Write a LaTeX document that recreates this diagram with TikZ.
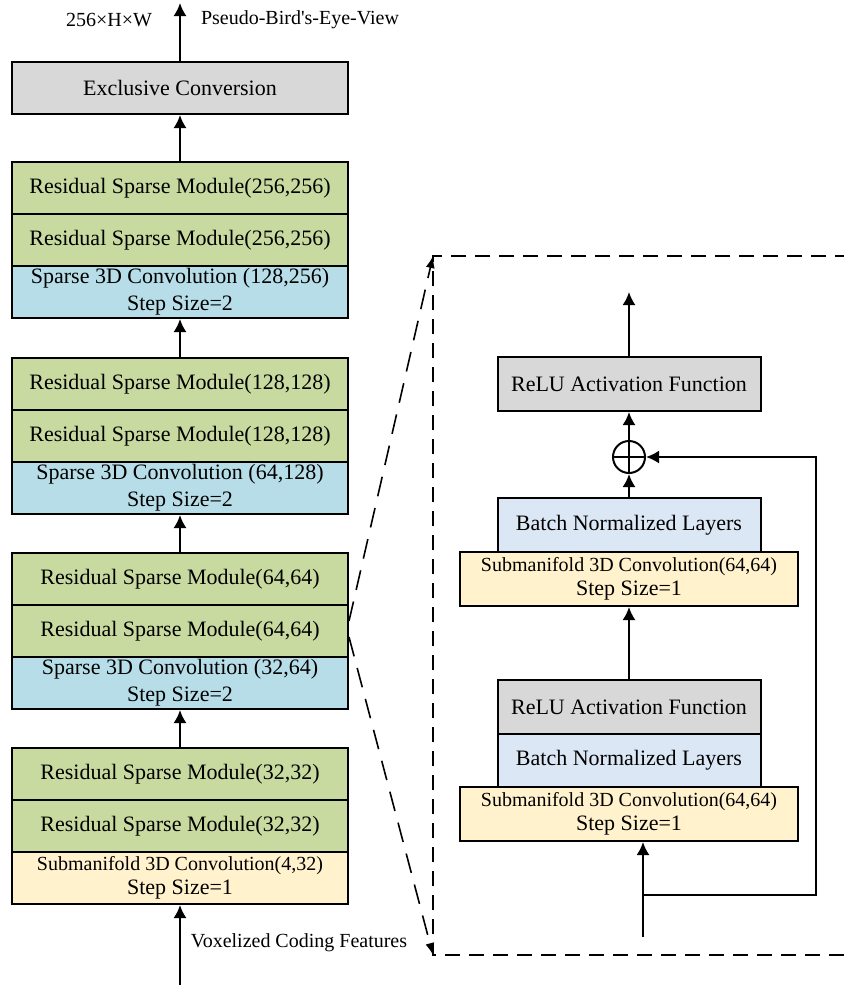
\documentclass[tikz,border=0pt]{standalone}
\usepackage{fontspec}
\setmainfont{Liberation Serif}
\usetikzlibrary{arrows.meta}
\definecolor{resgreen}{RGB}{200,218,160}
\definecolor{convblue}{RGB}{183,222,232}
\definecolor{subyellow}{RGB}{255,242,204}
\definecolor{boxgray}{RGB}{216,216,216}
\definecolor{bnblue}{RGB}{220,231,245}
\begin{document}
\begin{tikzpicture}[x=0.5pt,y=-0.5pt]
		\begin{scope}
		
		\tikzstyle{mybox}=[rectangle,
		draw=black,
		line width=1pt,
		inner sep=0pt,
		align=center,
		font=\fontsize{11}{13.5}\selectfont
		]
		\tikzstyle{myres}=[mybox, fill=resgreen, minimum width=168pt, minimum height=26pt]
		\tikzstyle{myconv}=[mybox, fill=convblue, minimum width=168pt, minimum height=26pt]
		\tikzstyle{mysub}=[mybox, fill=subyellow, minimum width=168pt, minimum height=26pt,
		font=\fontsize{11}{12}\selectfont]
		\tikzstyle{mygray}=[mybox, fill=boxgray, minimum width=168pt, minimum height=26pt]
		\tikzstyle{myrelu}=[mybox, fill=boxgray, minimum width=131.5pt, minimum height=27pt]
		\tikzstyle{mybn}=[mybox, fill=bnblue, minimum width=131.5pt, minimum height=27pt]
		\tikzstyle{mywide}=[mysub, minimum width=169pt, minimum height=27pt]
		\tikzstyle{mysum}=[circle, draw=black, line width=1pt, inner sep=0pt, minimum size=16pt]
		\tikzstyle{mylabel}=[inner sep=0pt, font=\fontsize{10}{12}\selectfont]
		\tikzstyle{myarrow}=[line width=1pt, -{Latex[length=6.5pt,width=6.5pt]}]
		\tikzstyle{myzoom}=[line width=0.8pt, dash pattern=on 10pt off 6pt, -{Latex[length=6pt,width=4.5pt]}]
		\tikzstyle{myframe}=[line width=0.9pt, dash pattern=on 7.5pt off 4.5pt]
		
		\useasboundingbox (0,0) rectangle (843,985);
		
		\coordinate (pout) at (180, 3);
		\coordinate (pec) at (180, 88);
		\coordinate (pr1a) at (180, 188);
		\coordinate (pr1b) at (180, 240);
		\coordinate (pc1) at (180, 292);
		\coordinate (pr2a) at (180, 384);
		\coordinate (pr2b) at (180, 436);
		\coordinate (pc2) at (180, 488);
		\coordinate (pr3a) at (180, 579);
		\coordinate (pr3b) at (180, 631);
		\coordinate (pc3) at (180, 683);
		\coordinate (pr4a) at (180, 774);
		\coordinate (pr4b) at (180, 826);
		\coordinate (ps4) at (180, 878);
		\coordinate (pin) at (180, 985);
		
		\node[mygray] (ec) at (pec) {Exclusive Conversion};
		\node[myres] (r1a) at (pr1a) {Residual Sparse Module(256,256)};
		\node[myres] (r1b) at (pr1b) {Residual Sparse Module(256,256)};
		\node[myconv] (c1) at (pc1) {Sparse 3D Convolution (128,256)\\Step Size=2};
		\node[myres] (r2a) at (pr2a) {Residual Sparse Module(128,128)};
		\node[myres] (r2b) at (pr2b) {Residual Sparse Module(128,128)};
		\node[myconv] (c2) at (pc2) {Sparse 3D Convolution (64,128)\\Step Size=2};
		\node[myres] (r3a) at (pr3a) {Residual Sparse Module(64,64)};
		\node[myres] (r3b) at (pr3b) {Residual Sparse Module(64,64)};
		\node[myconv] (c3) at (pc3) {Sparse 3D Convolution (32,64)\\Step Size=2};
		\node[myres] (r4a) at (pr4a) {Residual Sparse Module(32,32)};
		\node[myres] (r4b) at (pr4b) {Residual Sparse Module(32,32)};
		\node[mysub] (s4) at (ps4) {{\fontsize{10}{12}\selectfont Submanifold 3D Convolution(4,32)}\\Step Size=1};
		
		\node[mylabel] (size) at (109, 20) {256×H×W};
		\node[mylabel] (bev) at (300, 20) {Pseudo-Bird\textquotesingle s-Eye-View};
		\node[mylabel] (vox) at (299, 943) {Voxelized Coding Features};
		
		\draw[myarrow] (ec) -- (pout);
		\draw[myarrow] (r1a) -- (ec);
		\draw[myarrow] (r2a) -- (c1);
		\draw[myarrow] (r3a) -- (c2);
		\draw[myarrow] (r4a) -- (c3);
		\draw[myarrow] (pin) -- (s4);
		
		% residual block in detail
		\coordinate (pfa) at (433, 256);
		\coordinate (pfb) at (433, 955);
		\coordinate (pfc) at (850, 256);
		\coordinate (pfd) at (850, 955);
		
		\coordinate (pend) at (629, 292);
		\coordinate (prelu) at (629, 384);
		\coordinate (psum) at (629, 457);
		\coordinate (pbn) at (629, 525);
		\coordinate (psub) at (629, 579);
		\coordinate (prelub) at (629, 707);
		\coordinate (pbnb) at (629, 760.5);
		\coordinate (psubb) at (629, 814);
		\coordinate (pfeed) at (643, 937);
		\coordinate (psplit) at (643, 895);
		\coordinate (pskip) at (816, 895);
		
		\node[myrelu] (relu) at (prelu) {ReLU Activation Function};
		\node[mysum] (sum) at (psum) {};
		\node[mybn] (bn) at (pbn) {Batch Normalized Layers};
		\node[mywide] (sub) at (psub) {{\fontsize{10}{12}\selectfont Submanifold 3D Convolution(64,64)}\\Step Size=1};
		\node[myrelu] (relub) at (prelub) {ReLU Activation Function};
		\node[mybn] (bnb) at (pbnb) {Batch Normalized Layers};
		\node[mywide] (subb) at (psubb) {{\fontsize{10}{12}\selectfont Submanifold 3D Convolution(64,64)}\\Step Size=1};
		
		\draw[line width=1pt] (sum.north) -- (sum.south);
		\draw[line width=1pt] (sum.west) -- (sum.east);
		
		\draw[myarrow] (relu) -- (pend);
		\draw[myarrow] (sum) -- (relu);
		\draw[myarrow] (bn) -- (sum);
		\draw[myarrow] (relub) -- (sub);
		\draw[myarrow] (pfeed) -- (pfeed |- subb.south);
		\draw[myarrow] (psplit) -- (pskip) |- (sum.east);
		
		\draw[myframe] (pfc) -- (pfa) -- (pfb) -- (pfd);
		\draw[myzoom] ([yshift=5pt]r3b.east) -- (pfa);
		\draw[myzoom] ([yshift=-3pt]r3b.east) -- (pfb);
		
		\end{scope}
\end{tikzpicture}
\end{document}
